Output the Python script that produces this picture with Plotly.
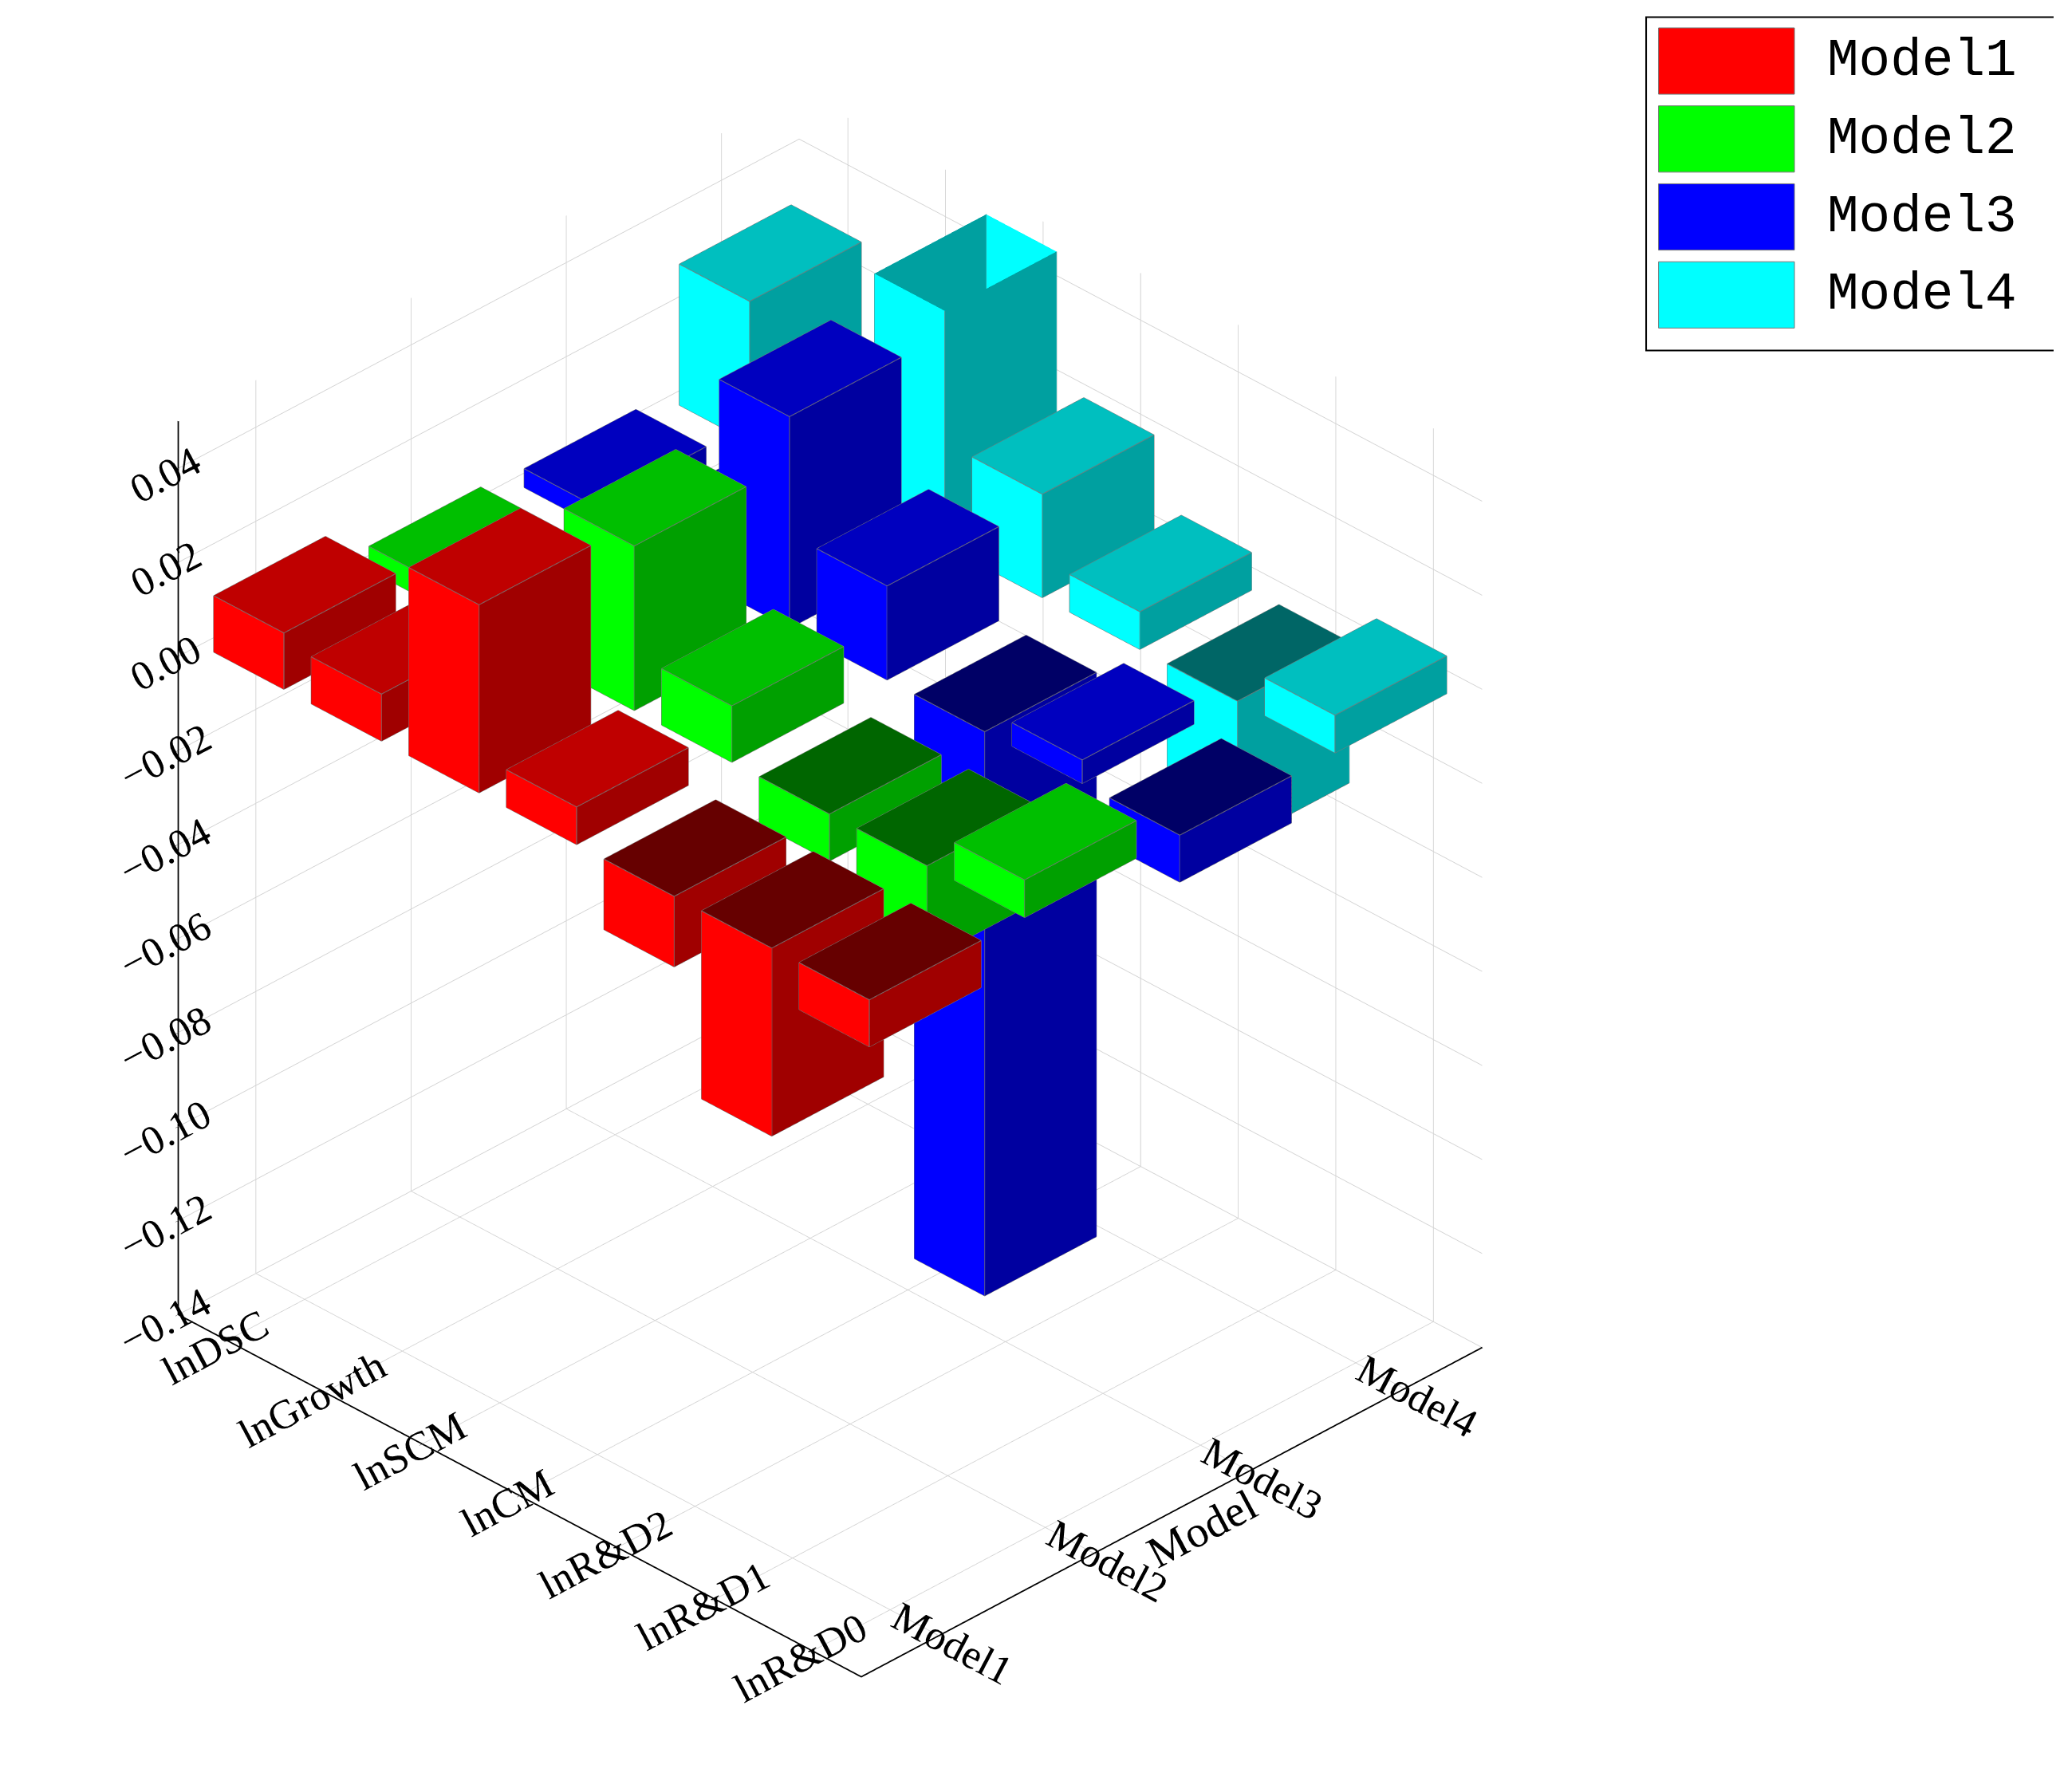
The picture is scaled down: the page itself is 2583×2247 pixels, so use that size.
import plotly.graph_objects as go

categories = ["lnDSC", "lnGrowth", "lnSCM", "lnCM", "lnR&D2", "lnR&D1", "lnR&D0"]
models = ["Model1", "Model2", "Model3", "Model4"]
model1 = [0.012, 0.010, 0.040, 0.008, -0.015, -0.040, -0.010]
model2 = [0.005, 0.005, 0.035, 0.012, -0.010, -0.020, 0.008]
model3 = [0.004, 0.004, 0.045, 0.020, -0.120, 0.005, -0.010]
model4 = [0.030, 0.010, 0.055, 0.022, 0.008, -0.030, 0.008]
values = [model1, model2, model3, model4]
colors = [(255, 0, 0), (0, 255, 0), (0, 0, 255), (0, 255, 255)]

def shade(c, f):
    return "rgb(%d,%d,%d)" % tuple(int(v * f) for v in c)

fig = go.Figure()
w = 0.36
for mi, (name, vals, col) in enumerate(zip(models, values, colors)):
    X, Y, Z, I, J, K, FC = [], [], [], [], [], [], []
    ex, ey, ez = [], [], []
    for ci, v in enumerate(vals):
        x0, x1 = ci - w, ci + w
        y0, y1 = mi - w, mi + w
        z0, z1 = min(0, v), max(0, v)
        b = len(X)
        pts = [(x0, y0, z0), (x1, y0, z0), (x1, y1, z0), (x0, y1, z0),
               (x0, y0, z1), (x1, y0, z1), (x1, y1, z1), (x0, y1, z1)]
        for p in pts:
            X.append(p[0]); Y.append(p[1]); Z.append(p[2])
        tf = 0.75 if v > 0 else 0.4
        faces = [((0, 1, 2), tf), ((0, 2, 3), tf), ((4, 5, 6), tf), ((4, 6, 7), tf),
                 ((1, 2, 6), 0.63), ((1, 6, 5), 0.63), ((0, 3, 7), 0.63), ((0, 7, 4), 0.63),
                 ((0, 1, 5), 1.0), ((0, 5, 4), 1.0), ((3, 2, 6), 1.0), ((3, 6, 7), 1.0)]
        for (a, bb, c), f in faces:
            I.append(b + a); J.append(b + bb); K.append(b + c)
            FC.append(shade(col, f))
        edges = [(0, 1), (1, 2), (2, 3), (3, 0), (4, 5), (5, 6), (6, 7), (7, 4),
                 (0, 4), (1, 5), (2, 6), (3, 7)]
        for a, c in edges:
            ex += [pts[a][0], pts[c][0], None]
            ey += [pts[a][1], pts[c][1], None]
            ez += [pts[a][2], pts[c][2], None]
    fig.add_trace(go.Mesh3d(x=X, y=Y, z=Z, i=I, j=J, k=K, facecolor=FC, flatshading=True,
                            lighting=dict(ambient=1, diffuse=0, specular=0, fresnel=0),
                            name=name, showlegend=False, hoverinfo="skip"))
    fig.add_trace(go.Scatter3d(x=ex, y=ey, z=ez, mode="lines",
                               line=dict(color="rgb(120,120,120)", width=2),
                               showlegend=False, hoverinfo="skip"))

# manual legend
for mi, (name, col) in enumerate(zip(models, colors)):
    y1 = 0.988 - mi * 0.0435
    fig.add_shape(type="rect", xref="paper", yref="paper", x0=0.802, x1=0.868,
                  y0=y1 - 0.037, y1=y1, fillcolor="rgb(%d,%d,%d)" % col,
                  line=dict(color="rgb(120,120,120)", width=1))
    fig.add_annotation(xref="paper", yref="paper", x=0.883, y=y1 - 0.0185, text=name,
                       showarrow=False, xanchor="left", yanchor="middle",
                       font=dict(family="Liberation Mono", size=66, color="black"))
fig.add_shape(type="rect", xref="paper", yref="paper", x0=0.796, x1=0.997, y0=0.808, y1=0.994,
              line=dict(color="black", width=2))

axfont = dict(family="Liberation Serif", size=25, color="black")
common = dict(showbackground=False, gridcolor="rgb(210,210,210)", showline=True,
              linecolor="black", linewidth=4, ticks="outside", tickfont=axfont,
              zeroline=False, showspikes=False)
fig.update_layout(
    width=2583, height=2247, paper_bgcolor="white",
    font=dict(family="Liberation Serif", color="black"),
    scene=dict(
        xaxis=dict(common, tickvals=list(range(7)), ticktext=categories, title=dict(text=""),
                   range=[-0.5, 6.5], autorange=False),
        yaxis=dict(common, tickvals=list(range(4)), ticktext=models,
                   title=dict(text="Model", font=dict(family="Liberation Serif", size=56)),
                   range=[-0.5, 3.5], autorange=False),
        zaxis=dict(common, range=[-0.14, 0.05], dtick=0.02, tickformat=".2f",
                   title=dict(text="")),
        aspectmode="manual", aspectratio=dict(x=1.1, y=1.0, z=1.2),
        camera=dict(eye=dict(x=1.3, y=-1.3, z=1.15), projection=dict(type="orthographic")),
        domain=dict(x=[0, 0.8], y=[0.02, 1]),
    ),
    showlegend=False,
    margin=dict(l=0, r=0, t=0, b=0),
)
fig.write_html("out.html")
